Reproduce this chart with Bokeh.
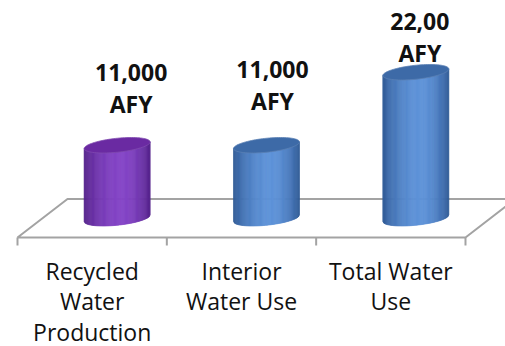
import numpy as np
from bokeh.plotting import figure
from bokeh.models import Range1d
from bokeh.core.properties import value
from bokeh.embed import file_html
from bokeh.resources import INLINE

# ---- data ----
categories = ["Recycled\nWater\nProduction", "Interior\nWater Use", "Total Water\nUse"]
values = [11000, 11000, 22000]
value_labels = ["11,000\nAFY", "11,000\nAFY", "22,00\nAFY"]

# ---- styling ----
bar_dark = ["#4c1d80", "#28508a", "#28508a"]
bar_light = ["#8444c6", "#5d92d8", "#5d92d8"]
cap_colors = ["#6a2aa2", "#3d6aa7", "#3d6aa7"]
label_nudge_px = [14, 6, 4]        # horizontal nudge of each value label
label_gap_px = [32, 35, 10]        # last label line baseline above bar top
TEXT_COLOR = "#111111"
FLOOR_COLOR = "#a3a3a3"

# ---- layout (pixels) ----
W, H = 505, 346
CAT_PX = 149.33          # width of one category slot on the floor front edge
FRONT_LEFT_PX = 17.0     # left end of the floor front edge
FLOOR_PX_Y = 237.0       # vertical position of the floor front edge
PX_PER_AFY = 73 / 11000  # vertical scale
DEPTH_PX = (50.0, 38.5)  # projection of the floor depth
RX_PX, RY_PX = 33.0, 7.0 # cylinder radii
SHEAR = 0.1              # tilt of the cylinder ellipses
VAL_LINE_PX = 31.5
CAT_LINE_PX = 30.5
CAT_FIRST_PX = 42.0
TEXT_RAISE_PX = 9.0      # the text box sits a little below its baseline anchor

ux = 1.0 / CAT_PX        # x data units per pixel
uy = 1.0 / PX_PER_AFY    # y data units per pixel

x0 = -0.5 - FRONT_LEFT_PX * ux
x1 = x0 + W * ux
y1 = FLOOR_PX_Y * uy
y0 = y1 - H * uy

DX, DY = DEPTH_PX[0] * ux, DEPTH_PX[1] * uy
RX, RY = RX_PX * ux, RY_PX * uy
SH = SHEAR * uy / ux

p = figure(width=W, height=H, x_range=Range1d(x0, x1), y_range=Range1d(y0, y1),
           x_axis_type=None, y_axis_type=None, toolbar_location=None,
           output_backend="svg", min_border=0, outline_line_color=None)
p.background_fill_color = "white"
p.border_fill_color = "white"
p.xgrid.visible = False
p.ygrid.visible = False

n = len(categories)

# ---- floor ----
fx = [-0.5, n - 0.5, n - 0.5 + DX, -0.5 + DX]
fy = [0, 0, DY, DY]
p.patch(fx, fy, fill_color="white", line_color=FLOOR_COLOR, line_width=2)
ticks = [i - 0.5 for i in range(n + 1)]
p.segment(x0=ticks, y0=[0] * len(ticks), x1=ticks, y1=[-8 * uy] * len(ticks),
          line_color=FLOOR_COLOR, line_width=2)


def mix(c1, c2, t):
    a = [int(c1[k:k + 2], 16) for k in (1, 3, 5)]
    b = [int(c2[k:k + 2], 16) for k in (1, 3, 5)]
    return "#%02x%02x%02x" % tuple(int(round(a[k] + (b[k] - a[k]) * t)) for k in range(3))


# ---- cylinders ----
N = 60
edges = np.linspace(-1, 1, N + 1)
c_peak = 0.15
for i, v in enumerate(values):
    cx = i + DX / 2
    base = DY / 2
    top = base + v
    xs, ys, cols = [], [], []
    for a, b in zip(edges[:-1], edges[1:]):
        m = 0.5 * (a + b)
        d = (m - c_peak) / ((1 - c_peak) if m > c_peak else (1 + c_peak))
        f = np.cos(np.clip(d, -1, 1) * np.pi / 2) ** 0.8
        cols.append(mix(bar_dark[i], bar_light[i], 0.12 + 0.88 * f))
        xa, xb = cx + RX * a, cx + RX * b
        xs.append([xa, xb, xb, xa])
        ys.append([top + SH * RX * a, top + SH * RX * b,
                   base + SH * RX * b - RY * np.sqrt(max(0.0, 1 - b * b)),
                   base + SH * RX * a - RY * np.sqrt(max(0.0, 1 - a * a))])
    p.patches(xs, ys, fill_color=cols, line_color=cols, line_width=0.7)

    t = np.linspace(0, 2 * np.pi, 90)
    ex = cx + RX * np.cos(t)
    ey = top + RY * np.sin(t) + SH * RX * np.cos(t)
    p.patch(ex, ey, fill_color=cap_colors[i], line_color=mix(cap_colors[i], "#ffffff", 0.15),
            line_width=0.8)

    # value label, one text line at a time
    lines = value_labels[i].split("\n")
    k = len(lines)
    lx = cx + label_nudge_px[i] * ux
    for j, s in enumerate(lines):
        ly = top + (label_gap_px[i] + TEXT_RAISE_PX + (k - 1 - j) * VAL_LINE_PX) * uy
        p.text(x=[lx], y=[ly], text=[s], text_align="center", text_baseline="alphabetic",
               text_font=value("Open Sans"), text_font_size="23px", text_font_style="bold",
               text_color=TEXT_COLOR)

# ---- category labels ----
for i, cat in enumerate(categories):
    for j, s in enumerate(cat.split("\n")):
        ly = -(CAT_FIRST_PX + j * CAT_LINE_PX - TEXT_RAISE_PX) * uy
        p.text(x=[i], y=[ly], text=[s],
               text_align="center", text_baseline="alphabetic",
               text_font=value("Open Sans"), text_font_size="23px",
               text_color=TEXT_COLOR)

open("out.html", "w").write(file_html(p, INLINE))
